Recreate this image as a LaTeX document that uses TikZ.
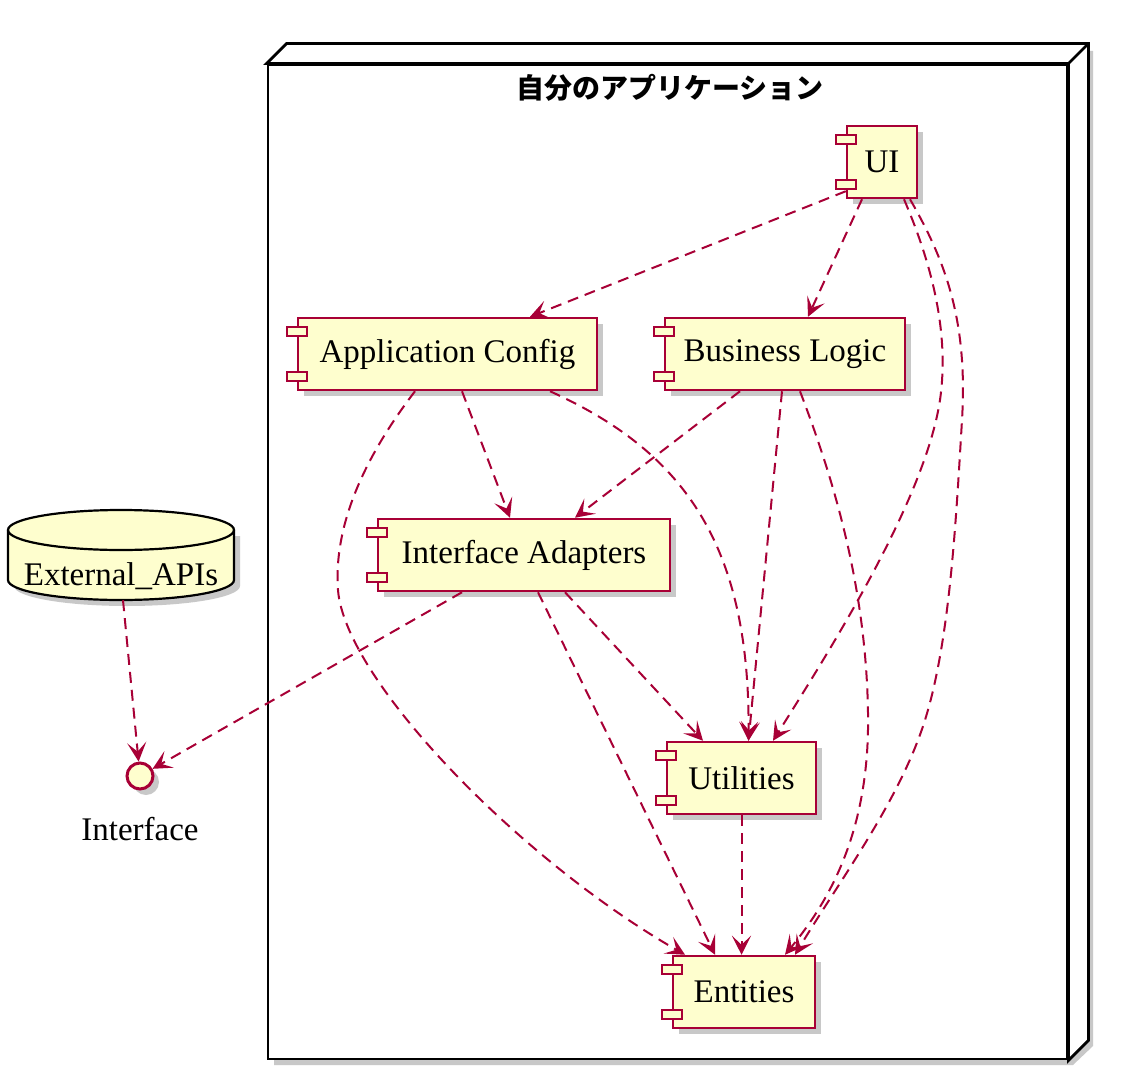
\documentclass[tikz,border=0pt]{standalone}
\usepackage{fontspec}
\setmainfont{Liberation Serif}
\newfontfamily\jpfont{Noto Sans CJK JP}
\usetikzlibrary{arrows.meta,shadows}

\definecolor{plumred}{HTML}{A80036}
\definecolor{plumfill}{HTML}{FEFECE}

\tikzset{
  comp/.style={rectangle, draw=plumred, fill=plumfill, line width=2.5pt,
    minimum height=72pt, inner sep=0pt, font=\fontsize{33}{39}\selectfont,
    drop shadow={shadow xshift=6pt, shadow yshift=-6pt, opacity=.3, fill=black!70}},
  tab/.style={draw=plumred, fill=plumfill, line width=2pt},
  dep/.style={draw=plumred, line width=2pt, dash pattern=on 11pt off 7pt,
    -{Stealth[length=19pt,width=19pt,inset=9pt]}},
  boxline/.style={draw=black, line width=2.8pt, line join=miter},
}

\begin{document}
\begin{tikzpicture}[x=1pt,y=1pt]
  \useasboundingbox[fill=white] (0,0) rectangle (1122,-1078);

  % the application box, drawn as a 3d node
  \fill[black!70, opacity=.3] (274,-71) -- (294,-51) -- (1093,-51) -- (1093,-1046) -- (1073,-1065) -- (274,-1065) -- cycle;
  \node[boxline, fill=white, minimum width=799pt, minimum height=994pt] (app) at (667.5,-562) {};
  \filldraw[boxline, fill=white] (app.north west) -- ++(20,20) -- ([shift={(20,20)}]app.north east)
    -- ([shift={(20,20)}]app.south east) -- (app.south east) -- (app.north east) -- cycle;
  \draw[boxline] (app.north east) -- ++(20,20);
  \node[font=\jpfont\fontsize{28}{32}\selectfont\bfseries] (title) at (670,-88) {自分のアプリケーション};

  % components
  \begin{scope}[every node/.style={comp}]
    \node[minimum width=70pt]  (ui)       at (882,-162)   {UI};
    \node[minimum width=299pt] (config)   at (447.5,-354) {Application Config};
    \node[minimum width=240pt] (logic)    at (785,-354)   {Business Logic};
    \node[minimum width=292pt] (adapters) at (524,-555)   {Interface Adapters};
    \node[minimum width=149pt] (utils)    at (741.5,-778) {Utilities};
    \node[minimum width=142pt] (entities) at (744,-992)   {Entities};
  \end{scope}
  \foreach \c in {ui,config,logic,adapters,utils,entities}{
    \draw[tab] ([xshift=-10pt,yshift=-10pt]\c.north west) rectangle ++(20,-9);
    \draw[tab] ([xshift=-10pt,yshift=10pt]\c.south west) rectangle ++(20,9);
  }

  % database
  \fill[black!70, opacity=.3] (14,-536) -- (14,-586) arc[start angle=180, end angle=360, x radius=113, y radius=20]
    -- (240,-536) -- cycle;
  \filldraw[draw=black, line width=2.2pt, fill=plumfill] (8,-530) -- (8,-580)
    arc[start angle=180, end angle=360, x radius=113, y radius=20] -- (234,-530)
    arc[start angle=0, end angle=180, x radius=113, y radius=20] -- cycle;
  \draw[line width=2.2pt] (8,-530) arc[start angle=180, end angle=360, x radius=113, y radius=20];
  \node[minimum width=226pt, minimum height=90pt, inner sep=0pt,
    label={[font=\fontsize{33}{39}\selectfont, yshift=-21pt]center:External\_APIs}] (apis) at (121,-555) {};

  % interface
  \node[circle, draw=plumred, fill=plumfill, line width=3pt, minimum size=26pt, inner sep=0pt,
    drop shadow={shadow xshift=6pt, shadow yshift=-6pt, opacity=.3, fill=black!70},
    label={[font=\fontsize{33}{39}\selectfont, inner sep=0pt, label distance=27pt]below:Interface}] (iface) at (140,-776) {};

  % dependencies
  \draw[dep] ([yshift=8pt]ui.south west) -- ([xshift=82.5pt]config.north);
  \draw[dep] ([xshift=-20pt]ui.south) -- ([xshift=23pt]logic.north);
  \draw[dep] ([xshift=22pt]ui.south) .. controls (930,-260) and (950,-330) .. (940,-400)
    .. controls (925,-500) and (830,-650) .. ([xshift=31.5pt]utils.north);
  \draw[dep] ([xshift=28pt]ui.south) .. controls (945,-260) and (968,-320) .. (962,-420)
    .. controls (956,-520) and (950,-640) .. (925,-720)
    .. controls (900,-800) and (840,-880) .. ([xshift=51pt]entities.north);

  \draw[dep] ([xshift=14.5pt]config.south) -- ([xshift=-14pt]adapters.north);
  \draw[dep] ([xshift=102.5pt]config.south) .. controls (680,-450) and (750,-540) .. ([xshift=7pt]utils.north);
  \draw[dep] ([xshift=-32.5pt]config.south) .. controls (370,-450) and (333,-520) .. (338,-590)
    .. controls (345,-680) and (520,-860) .. ([xshift=-59pt]entities.north);

  \draw[dep] ([xshift=-45pt]logic.south) -- ([xshift=51pt]adapters.north);
  \draw[dep] ([xshift=-3pt]logic.south) -- ([xshift=7pt]utils.north);
  \draw[dep] ([xshift=15pt]logic.south) .. controls (830,-470) and (866,-580) .. (868,-713)
    .. controls (870,-830) and (830,-900) .. ([xshift=41pt]entities.north);

  \draw[dep] ([xshift=41pt]adapters.south) -- ([xshift=-38.5pt]utils.north);
  \draw[dep] ([xshift=14pt]adapters.south) -- ([xshift=-29pt]entities.north);
  \draw[dep] ([xshift=-62pt]adapters.south) -- (iface);
  \draw[dep] (utils.south) -- (utils.south |- entities.north);
  \draw[dep] ([xshift=2pt]apis.south) -- (iface);

\end{tikzpicture}
\end{document}
